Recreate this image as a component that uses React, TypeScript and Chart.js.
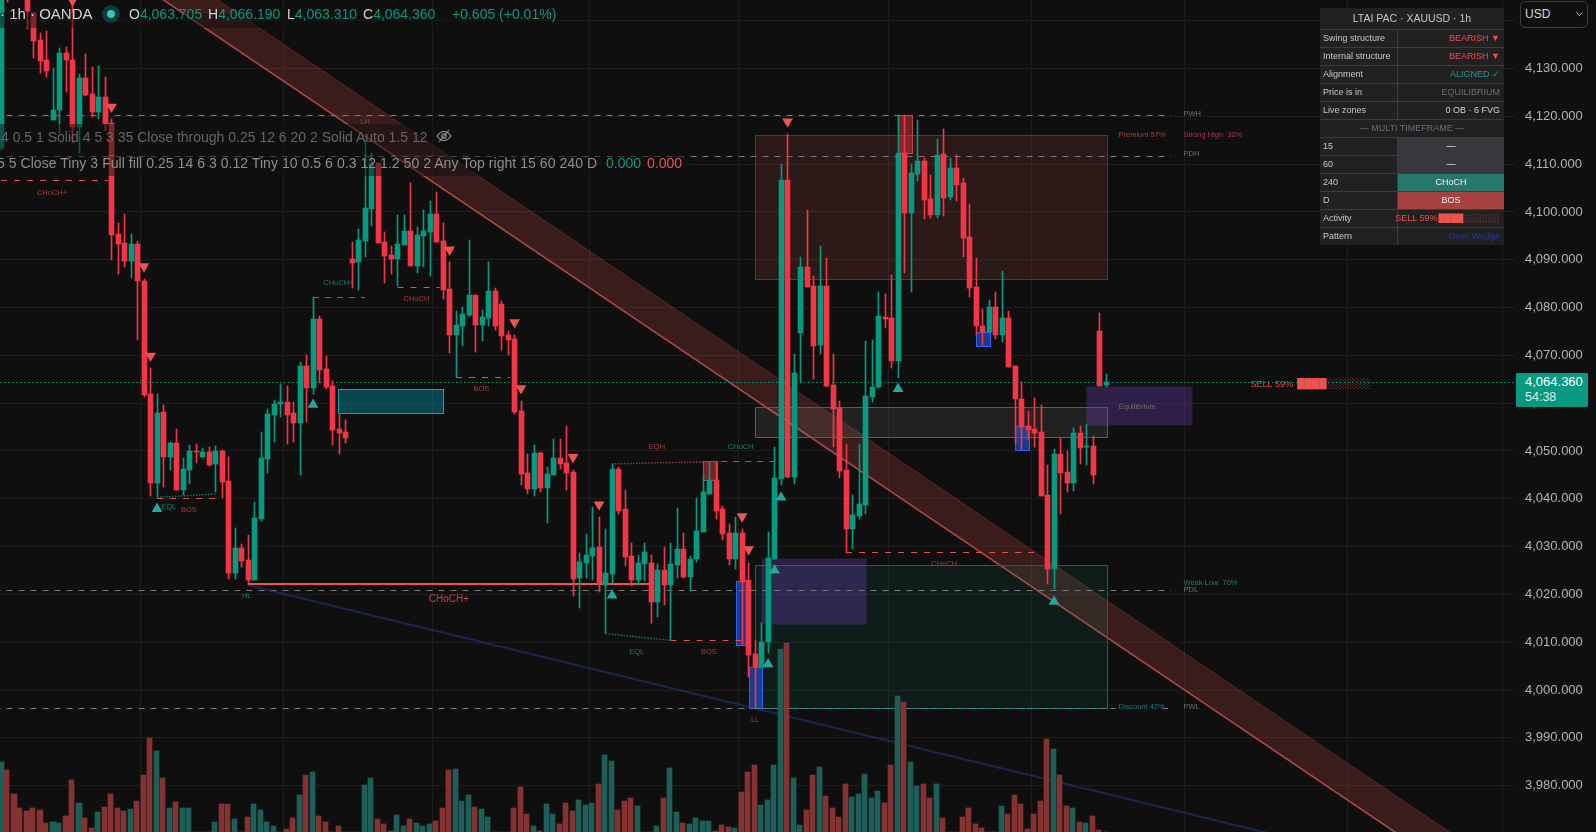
import React, { useEffect, useRef } from "react";
import { Chart, registerables } from "chart.js";

Chart.register(...registerables);

// ---- candle data (price units) ----
const opens = [
  4113.4,4152,4152,4152,4148,4141.6,4136,4131.8,4119.2,4121.3,
  4133.2,4131.8,4117.8,4128,4124.7,4120.9,4124,4118.6,4095.4,4093.5,
  4089.7,4093.3,4085.5,4061.9,4043.3,4058.1,4048.7,4051.6,4041.8,4046,
  4050,4048.7,4049.8,4047.3,4050,4043.7,4024.4,4029.7,4027.2,4023,
  4035.8,4048.3,4057.5,4059.8,4060.2,4057.9,4055.8,4067.8,4063.2,4077.6,
  4067.1,4063.6,4054.6,4053.9,4090.1,4089.5,4093.9,4100.6,4110.2,4093.7,
  4091,4090.1,4093.1,4096,4088.7,4095,4095.8,4099.6,4093.9,4083.9,
  4074.2,4076.1,4078.4,4082.6,4076.3,4077.8,4083.4,4080.7,4074.2,4073.4,
  4058.3,4045.4,4042,4049.6,4042.2,4045,4048.5,4047.5,4045.6,4023.4,
  4026.5,4028,4029.9,4021.9,4024.2,4046.2,4037.9,4028,4023,4026.3,
  4026.5,4018.4,4025.1,4021.9,4026.1,4029.5,4023.6,4027.4,4033,4041,
  4043.9,4037.9,4032.8,4027.4,4032.8,4023,4007.5,4004.8,4010,4027.4,
  4044.1,4106.7,4044.5,4074.7,4088.5,4084.5,4072.2,4084.5,4063.8,4059,
  4046,4033.7,4036.4,4038.7,4061.3,4063.4,4078,4077.8,4068.8,4112.3,
  4099.8,4107.9,4110.6,4102.7,4099.3,4112.1,4103.1,4109.2,4106,4094.7,
  4084.3,4076.1,4074.9,4080.1,4074.2,4077.8,4067.8,4060.9,4055.2,4054.6,
  4053.9,4040.8,4025.3,4049.4,4045.6,4043.3,4053.8,4050.8,4051,4075.1,
  4063.705,
];
const closes = [
  4146,4146,4147,4148,4142,4135.8,4131.6,4129.5,4121.3,4133.2,
  4131.8,4117.8,4128,4124.5,4120.9,4124,4118.4,4095.2,4093.3,4089.7,
  4093.3,4085.5,4061.7,4043.3,4057.9,4048.7,4051.6,4041.8,4046.2,4050,
  4049.8,4049.8,4047.1,4050,4043.5,4024.4,4029.7,4027,4023,4036,
  4048.5,4057.7,4059.8,4060.2,4057.5,4055.8,4067.8,4063.2,4077.6,4066.9,
  4063.4,4054.4,4053.8,4052.7,4089.3,4094.1,4100.8,4110.2,4093.5,4090.8,
  4090.1,4093.3,4096,4088.7,4095.2,4096,4099.6,4093.7,4083.7,4074.2,
  4076.3,4078.6,4082.6,4076.3,4078,4083.4,4076.1,4074,4073.2,4058.1,
  4045.2,4042,4049.6,4042.2,4045.2,4048.5,4047.3,4045.4,4023.2,4026.8,
  4028.2,4029.7,4022.2,4024.4,4046.2,4037.4,4027.8,4023,4026.5,4028.8,
  4018.4,4025.1,4021.9,4026.3,4029.5,4023.6,4027.4,4033.2,4041.4,4043.9,
  4037.4,4032.6,4027.4,4032.8,4022.6,4007.3,4004.9,4010,4027.6,4044.3,
  4106.7,4044.5,4066.3,4088.5,4084.3,4071.9,4084.5,4063.6,4058.8,4045.8,
  4033.7,4036.6,4038.9,4061.5,4063.4,4078.2,4077.6,4068.8,4112.3,4099.8,
  4108.1,4110.6,4102.5,4099.3,4111.9,4102.9,4109.2,4105.6,4094.5,4084.1,
  4076.1,4074.9,4080.1,4074.2,4077.8,4067.6,4060.9,4055,4054.4,4053.8,
  4040.6,4025.3,4049.4,4045.4,4043.3,4053.8,4050.6,4051,4044.9,4063.6,
  4064.36,
];
const highs = [
  4146,4153,4153,4153,4149,4141.6,4137.4,4137.8,4130.1,4134.3,
  4134.5,4145,4128.8,4133,4130.3,4130.5,4128.2,4119.4,4097.7,4099.6,
  4095.4,4093.9,4086,4067.3,4061.9,4059.6,4051.9,4054.6,4048.5,4051.2,
  4051.4,4050.6,4050.8,4051,4050.2,4048.7,4033.9,4030.5,4032.4,4039.3,
  4053.9,4058.8,4060.6,4064,4063.6,4060.2,4068.6,4070.1,4082.2,4078.2,
  4069.9,4064.6,4057.7,4056.5,4093.7,4096.4,4115,4112.3,4110.2,4095.8,
  4092.9,4099.3,4099.3,4106,4096.8,4100.4,4102.3,4104.2,4097.7,4089.5,
  4079.3,4080.1,4094.1,4082.6,4079.5,4089.5,4084.1,4081.3,4075.1,4074.2,
  4060.4,4049.4,4051.2,4049.8,4046.6,4052.5,4052.5,4055.2,4046,4028.6,
  4032.6,4038.3,4036.2,4033.7,4047.3,4046.6,4041.8,4030.7,4028.2,4030.7,
  4028.2,4026.3,4029.9,4030.7,4038,4032.8,4028,4040.1,4045,4047.7,
  4047.7,4038.5,4034.7,4036.2,4033.7,4026.5,4010.4,4014,4033,4050.8,
  4110,4116.3,4070.3,4090.6,4100.4,4086.6,4092.9,4090.3,4070.3,4060.4,
  4051.4,4040.8,4051.4,4073,4073.2,4083.2,4082.8,4086.8,4120.3,4120.3,
  4110,4119.2,4111.3,4107.7,4115.2,4117.3,4111.3,4111.9,4107.1,4101.6,
  4090.3,4079.7,4081.6,4083.2,4087.6,4079.3,4067.8,4064.4,4058.3,4061.1,
  4059.6,4047,4050.4,4052.7,4050,4054.8,4055.2,4055.6,4053.1,4078.8,
  4066.19,
];
const lows = [
  4113,4143.9,4146,4146,4138.3,4132.2,4129.1,4128.2,4119.2,4116.5,
  4125.1,4114.4,4112.3,4124.2,4119.8,4119.4,4116.9,4089.9,4087,4088.5,
  4086.2,4073.2,4061.3,4040.6,4040.1,4042.4,4046,4041.8,4040.8,4043.1,
  4047.5,4048.7,4046.8,4041.4,4040.1,4023.2,4023.2,4025.7,4021.9,4023,
  4035.3,4045.4,4051.9,4057.1,4051.4,4051.9,4045,4056.1,4061.9,4064.2,
  4062.9,4051.2,4049.4,4051.6,4084.1,4083.7,4090.6,4097.1,4093.5,4085.1,
  4087,4084.5,4093.1,4088.7,4087.2,4088.5,4086.6,4093.7,4081.8,4070.5,
  4065.5,4071.9,4078,4070.7,4073,4076.1,4075.3,4071.1,4070.1,4057.7,
  4042.9,4041,4040.6,4041.4,4034.9,4045,4046.2,4041.8,4019.6,4017.1,
  4023.4,4023,4020.5,4011.9,4022.4,4036.8,4025.9,4021.7,4021.9,4022.8,
  4014,4015.3,4017.8,4010.4,4023.4,4023.4,4020.7,4026.8,4033,4041,
  4035.8,4031.4,4026.1,4025.3,4009.4,4002.7,3996.2,4004.8,4007.7,4027.4,
  4042.9,4044.3,4043.1,4064.4,4084.3,4065,4070.3,4063.4,4050.8,4044.3,
  4028.6,4029.5,4035.8,4036.8,4060.2,4063.2,4075.7,4067.3,4065.2,4087.2,
  4083.2,4106.5,4098.5,4098.7,4098.7,4099.1,4102.5,4102.3,4090.6,4082.2,
  4074.2,4072.2,4074.9,4073.4,4072.8,4067.6,4051.7,4050.4,4052.3,4050.8,
  4040.6,4022.2,4021.1,4036.8,4041.4,4041.6,4047.3,4047.1,4043.1,4063.6,
  4063.31,
];
const volumes = [
  70,62,38,24,21,24,22,9,10,9,
  16,52,29,14,4,20,25,38,24,21,
  23,31,57,94,81,54,24,30,24,24,
  0,0,0,10,28,28,13,0,15,28,
  22,10,6,0,3,14,37,57,60,16,
  10,0,6,0,0,0,47,54,13,8,
  1,17,6,13,9,6,8,11,24,62,
  63,31,37,25,23,15,0,0,0,24,
  45,18,6,1,28,18,8,29,21,32,
  27,29,48,77,71,22,31,34,26,0,
  0,6,34,64,20,9,8,14,11,11,
  1,7,5,4,40,60,67,27,32,67,
  183,189,54,7,22,57,65,36,24,15,
  48,35,38,58,34,41,29,67,136,130,
  70,46,48,34,48,14,0,0,15,24,
  8,4,0,0,26,18,37,28,3,18,
  31,93,83,57,26,24,10,9,16,2,
  0,
];

// ---- axis values ----
const priceTicks = [4140,4130,4120,4110,4100,4090,4080,4070,4060,4050,4040,4030,4020,4010,4000,3990,3980];
const timeGridBars = [9.9,33,53.9,79,102,125,148,169,195.2,219.1];
const lastPrice = 4064.36;

// ---- signal markers: bar index and price ----
const sellMarkers = [
  [11,4144.2],[17,4122],[22,4088.6],[23,4069.9],[69,4092.1],[79,4076.9],
  [80,4063.1],[88,4048.7],[92,4038.8],[114,4036.3],[115,4029.4],[121,4118.9],
];
const buyMarkers = [
  [24,4037.9],[48,4059.7],[94,4019.8],[120,4040.3],[119,4025],[118,4005.4],[138,4063],[162,4018.5],
];

// ---- zones: first bar, last bar, upper price, lower price, kind ----
const zones: [number, number, number, number, string][] = [
  [116,170.1,4116,4086,"premium"],
  [116,170.1,4059.1,4053,"equilibrium"],
  [116,170.1,4026.1,3996.2,"discount"],
  [116.9,133.1,4027.6,4013.8,"purple"],
  [166.9,183.2,4063.6,4055.5,"purple"],
  [51.9,68,4062.9,4057.9,"cyan"],
  [113,114.8,4022.7,4009.5,"blue"],
  [115,117,4004.9,3996.2,"blue"],
  [150,152.1,4074.9,4072,"blue"],
  [156,158.1,4055.2,4050.3,"blue"],
  [-1,0,4137.4,4130.7,"blue"],
  [108,110.1,4047.8,4043.9,"supply"],
  [138,140.1,4120.2,4112.3,"supply"],
];

// ---- straight levels: first bar, last bar, price at start, price at end, kind ----
const levels: [number, number, number, number, string][] = [
  [-1,180,4120.2,4120.2,"gray"],
  [-1,180,4111.8,4111.8,"gray"],
  [-1,180,4021,4021,"gray"],
  [-1,171.5,3996.2,3996.2,"gray"],
  [178.6,180,3996.2,3996.2,"gray"],
  [0,16.5,4106.6,4106.6,"redDash"],
  [24,34,4040.1,4040.1,"redDash"],
  [61,67.5,4084.4,4084.4,"redDash"],
  [70,78.3,4065.4,4065.4,"redDash"],
  [103,114,4010.4,4010.4,"redDash"],
  [130,160,4028.8,4028.8,"redDash"],
  [48,56,4082.2,4082.2,"tealDash"],
  [110.8,119,4047.8,4047.8,"tealDash"],
  [94,110,4047.3,4047.8,"redDot"],
  [93,103,4011.8,4010.4,"tealDot"],
  [24,33,4040.3,4041,"tealDot"],
  [38,100,4022.2,4022.2,"redSolid"],
  [38,200,4021.9,3968.4,"wedge"],
  [116,170.1,3996.2,3996.2,"tealDash"],
];

// ---- descending channel: start and end prices of each rail ----
const channelBars = [0, 240];
const channelLower = [4167.3, 3946.8];
const channelUpper = [4175, 3954.5];

// ---- chart labels: text, bar, price, kind, align ----
const chartLabels: [string, number, number, string, string][] = [
  ["CHoCH+",7.85,4103.9,"red","center"],
  ["LH",56,4118.8,"red","center"],
  ["CHoCH+",51.9,4085.1,"teal","center"],
  ["CHoCH",63.9,4081.8,"red","center"],
  ["BOS",73.9,4062.9,"red","center"],
  ["EQL",25.8,4038.3,"teal","center"],
  ["BOS",28.9,4037.6,"red","center"],
  ["HL",37.8,4019.6,"teal","center"],
  ["EQH",100.9,4050.8,"red","center"],
  ["CHoCH",113.8,4050.8,"teal","center"],
  ["EQL",97.8,4007.9,"teal","center"],
  ["BOS",108.9,4007.9,"red","center"],
  ["LL",116,3993.7,"red","center"],
  ["CHoCH",145.1,4026.3,"red","center"],
  ["Premium 57%",171.9,4116.2,"red","left"],
  ["Strong High  30%",181.9,4116.2,"pink","left"],
  ["PWH",181.9,4120.5,"gray","left"],
  ["PDH",181.9,4112.2,"gray","left"],
  ["Weak Low  70%",181.9,4022.4,"teal","left"],
  ["PDL",181.9,4021,"gray","left"],
  ["Discount 42%",171.9,3996.5,"teal","left"],
  ["PWL",181.9,3996.5,"gray","left"],
  ["Equilibrium",174.8,4059.3,"gray","center"],
];
const choch = ["CHoCH+", 68.9, 4019];
const sellText = ["SELL 59%", 192.2, 4063.8];
const activityBlocks = ["████", "░░░░░░"];

// ---- header and table text ----
const ohlc = [
  ["O","4,063.705",129],["H","4,066.190",208],["L","4,063.310",287],["C","4,064.360",363],
];
const changeText = "+0.605 (+0.01%)";
const settingsA = "4 0.5 1 Solid 4 5 3 35 Close through 0.25 12 6 20 2 Solid Auto 1.5 12";
const settingsB = "5 5 Close Tiny 3 Full fill 0.25 14 6 3 0.12 Tiny 10 0.5 6 0.3 12 1.2 50 2 Any Top right 15 60 240 D";
const statusRows = [
  ["Swing structure","BEARISH ▼","#ef4d52"],
  ["Internal structure","BEARISH ▼","#ef4d52"],
  ["Alignment","ALIGNED ✓","#1f9c8c"],
  ["Price is in","EQUILIBRIUM","#6c6c74"],
  ["Live zones","0 OB · 6 FVG","#d0d0d0"],
];
const timeframeRows = [
  ["15","—","#38383c"],
  ["60","—","#38383c"],
  ["240","CHoCH","#26776c"],
  ["D","BOS","#a84242"],
];

const GREEN = "#089981";
const RED = "#f23645";
const VOL_GREEN = "#1d5e58";
const VOL_RED = "#843232";
const BG = "#0f0f0f";
const LABEL_FONT = "'Liberation Sans', sans-serif";

const zoneStyles: Record<string, { fill: string; stroke: string }> = {
  premium: { fill: "rgba(242,100,90,0.125)", stroke: "#6a2e2e" },
  equilibrium: { fill: "rgba(180,180,190,0.11)", stroke: "#5a5a5c" },
  discount: { fill: "rgba(8,153,129,0.10)", stroke: "#2a5c56" },
  purple: { fill: "rgba(118,68,198,0.30)", stroke: "rgba(0,0,0,0)" },
  cyan: { fill: "rgba(0,188,212,0.32)", stroke: "#1f9fb4" },
  blue: { fill: "rgba(41,98,255,0.52)", stroke: "#2962ff" },
  supply: { fill: "rgba(242,54,69,0.45)", stroke: "#b04a4a" },
};
const levelStyles: Record<string, { color: string; dash: number[]; width: number }> = {
  gray: { color: "#77777f", dash: [6, 6], width: 1 },
  redDash: { color: "#e8504f", dash: [6, 7], width: 1 },
  tealDash: { color: "#2a8f86", dash: [6, 6], width: 1 },
  redDot: { color: "#8c3b3b", dash: [1.5, 1.5], width: 1.5 },
  tealDot: { color: "#1f7268", dash: [1.5, 1.5], width: 1.5 },
  redSolid: { color: "#ef5350", dash: [], width: 2 },
  wedge: { color: "rgba(41,70,170,0.42)", dash: [], width: 2 },
};
const labelColors: Record<string, string> = {
  red: "#a83c3c",
  teal: "#1f7a70",
  gray: "#6e6e72",
  pink: "#a83458",
};

const annotations = {
  id: "annotations",
  afterDatasetsUpdate(chart: any) {
    const xs = chart.scales.x;
    chart.getSortedVisibleDatasetMetas().forEach((meta: any) => {
      if (meta.type !== "bar") return;
      const kind = chart.data.datasets[meta.index].kind;
      meta.data.forEach((el: any, i: number) => {
        const px = xs.getPixelForValue(i);
        const c = Math.ceil(px - 0.001);
        const whole = Math.abs(px - Math.round(px)) < 0.01;
        if (kind === "vol") {
          el.width = whole ? 6 : 5;
          el.x = whole ? c - 1 : c - 1.5;
        } else {
          el.x = c - 0.5;
          el.width = kind === "body" ? 5 : 1;
        }
        const a = Math.round(el.y);
        const b = Math.round(el.base);
        el.y = a;
        el.base = a === b && kind !== "vol" ? b + 1 : b;
      });
    });
  },
  beforeDatasetsDraw(chart: any) {
    const { ctx, chartArea: ca, scales } = chart;
    const X = (v: number) => scales.x.getPixelForValue(v);
    const Y = (v: number) => scales.y.getPixelForValue(v);
    ctx.save();
    ctx.beginPath();
    ctx.rect(ca.left, ca.top, ca.right - ca.left, ca.bottom - ca.top);
    ctx.clip();

    // channel
    ctx.beginPath();
    ctx.moveTo(X(channelBars[0]), Y(channelUpper[0]));
    ctx.lineTo(X(channelBars[1]), Y(channelUpper[1]));
    ctx.lineTo(X(channelBars[1]), Y(channelLower[1]));
    ctx.lineTo(X(channelBars[0]), Y(channelLower[0]));
    ctx.closePath();
    ctx.fillStyle = "rgba(242,90,80,0.19)";
    ctx.fill();
    ctx.beginPath();
    ctx.moveTo(X(channelBars[0]), Y(channelUpper[0]));
    ctx.lineTo(X(channelBars[1]), Y(channelUpper[1]));
    ctx.strokeStyle = "rgba(190,70,70,0.35)";
    ctx.lineWidth = 1;
    ctx.stroke();
    ctx.beginPath();
    ctx.moveTo(X(channelBars[0]), Y(channelLower[0]));
    ctx.lineTo(X(channelBars[1]), Y(channelLower[1]));
    ctx.strokeStyle = "#b04848";
    ctx.lineWidth = 1.6;
    ctx.stroke();

    // zones
    zones.forEach(([a, b, top, bottom, kind]) => {
      const st = zoneStyles[kind];
      const x0 = Math.round(X(a)) + 0.5;
      const x1 = Math.round(X(b)) + 0.5;
      const y0 = Math.round(Y(top)) + 0.5;
      const y1 = Math.round(Y(bottom)) + 0.5;
      ctx.fillStyle = st.fill;
      ctx.fillRect(x0, y0, x1 - x0, y1 - y0);
      ctx.strokeStyle = st.stroke;
      ctx.lineWidth = 1;
      ctx.setLineDash([]);
      ctx.strokeRect(x0, y0, x1 - x0, y1 - y0);
    });

    // levels
    levels.forEach(([a, b, p0, p1, kind]) => {
      const st = levelStyles[kind];
      const snap = p0 === p1 ? (v: number) => Math.round(v) + (st.width % 2 ? 0.5 : 0) : (v: number) => v;
      ctx.beginPath();
      ctx.setLineDash(st.dash);
      ctx.strokeStyle = st.color;
      ctx.lineWidth = st.width;
      ctx.moveTo(X(a), snap(Y(p0)));
      ctx.lineTo(X(b), snap(Y(p1)));
      ctx.stroke();
    });
    ctx.setLineDash([1.5, 2.5]);
    ctx.strokeStyle = GREEN;
    ctx.lineWidth = 1;
    ctx.beginPath();
    const py = Math.round(Y(lastPrice)) + 0.5;
    ctx.moveTo(ca.left, py);
    ctx.lineTo(ca.right, py);
    ctx.stroke();
    ctx.restore();
  },
  afterDatasetsDraw(chart: any) {
    const { ctx, scales } = chart;
    const X = (v: number) => scales.x.getPixelForValue(v);
    const Y = (v: number) => scales.y.getPixelForValue(v);
    ctx.save();
    ctx.textBaseline = "middle";
    ctx.font = `7.5px ${LABEL_FONT}`;
    chartLabels.forEach(([text, bar, price, kind, align]) => {
      ctx.fillStyle = labelColors[kind];
      ctx.textAlign = align;
      ctx.fillText(text, X(bar), Y(price));
    });
    ctx.textAlign = "center";
    ctx.font = `10px ${LABEL_FONT}`;
    ctx.fillStyle = "#c24444";
    ctx.fillText(choch[0], X(choch[1] as number), Y(choch[2] as number));
    ctx.textAlign = "left";
    ctx.font = `9px ${LABEL_FONT}`;
    ctx.fillStyle = "#e8474c";
    ctx.fillText(sellText[0], X(sellText[1] as number), Y(sellText[2] as number));
    const bx = X(199.4);
    ctx.font = `9.5px 'DejaVu Sans'`;
    ctx.fillStyle = "#ef5350";
    ctx.fillText(activityBlocks[0], bx, Y(4064));
    const w = ctx.measureText(activityBlocks[0]).width;
    ctx.fillStyle = "#8c3b3b";
    ctx.fillText(activityBlocks[1], bx + w, Y(4064));
    ctx.restore();
  },
};

const cellBase: React.CSSProperties = {
  position: "absolute",
  height: 17,
  lineHeight: "17px",
  whiteSpace: "nowrap",
};

function Panel() {
  const rowH = 18;
  const headH = 21;
  const row = (i: number, left: React.ReactNode, right: React.ReactNode, rightBg?: string, key?: string) => (
    <div key={key ?? i} style={{ position: "absolute", left: 0, top: headH + i * rowH, width: 184, height: rowH, borderTop: "1px solid #3c3c3c", boxSizing: "border-box" }}>
      <div style={{ ...cellBase, left: 3, top: 0, color: "#c8c8c8" }}>{left}</div>
      <div style={{ position: "absolute", left: 77, top: 0, width: 1, height: 17, background: "#3c3c3c" }} />
      <div style={{ ...cellBase, left: 78, top: 0, width: 106, background: rightBg ?? "transparent", display: "flex", justifyContent: rightBg ? "center" : "flex-end", paddingRight: rightBg ? 0 : 4, boxSizing: "border-box" }}>{right}</div>
    </div>
  );
  return (
    <div style={{ position: "absolute", left: 1320, top: 8, width: 184, height: 237, background: "rgba(34,34,34,0.93)", fontFamily: LABEL_FONT, fontSize: 9, color: "#c8c8c8" }}>
      <div style={{ position: "absolute", left: 0, top: 0, width: 184, height: headH, lineHeight: "21px", textAlign: "center", fontSize: 10.5, color: "#c4c4c4" }}>LTAI PAC · XAUUSD · 1h</div>
      {statusRows.map((r, i) => row(i, r[0], <span style={{ color: r[2] }}>{r[1]}</span>))}
      <div style={{ position: "absolute", left: 0, top: headH + 5 * rowH, width: 184, height: rowH, borderTop: "1px solid #3c3c3c", boxSizing: "border-box", lineHeight: "17px", textAlign: "center", color: "#6c6c74" }}>— MULTI TIMEFRAME —</div>
      {timeframeRows.map((r, i) => row(6 + i, r[0], <span style={{ color: "#f0f0f0" }}>{r[1]}</span>, r[2]))}
      {row(10, "Activity", (
        <span style={{ color: "#ef4d52", display: "flex", alignItems: "center" }}>
          SELL 59%
          <span style={{ marginLeft: 1, fontFamily: "'DejaVu Sans'", fontSize: 8, lineHeight: "17px", color: "#ef5350" }}>████</span>
          <span style={{ fontFamily: "'DejaVu Sans'", fontSize: 8, lineHeight: "17px", color: "#8c3b3b" }}>░░░░░░</span>
        </span>
      ))}
      {row(11, "Pattern", <span style={{ color: "#1f3a8f" }}>Desc Wedge</span>)}
    </div>
  );
}

export default function App() {
  const ref = useRef<HTMLCanvasElement>(null);
  useEffect(() => {
    const up = (i: number) => closes[i] >= opens[i];
    const chart = new Chart(ref.current as HTMLCanvasElement, {
      type: "bar",
      data: {
        datasets: [
          { kind: "vol", type: "bar", order: 4, yAxisID: "v", barThickness: 6, grouped: false, data: volumes.map((v, i) => ({ x: i, y: v })), backgroundColor: volumes.map((_, i) => (up(i) ? VOL_GREEN : VOL_RED)) },
          { kind: "wick", type: "bar", order: 3, barThickness: 1, grouped: false, data: highs.map((h, i) => ({ x: i, y: [lows[i], h] })), backgroundColor: highs.map((_, i) => (up(i) ? GREEN : RED)) },
          { kind: "body", type: "bar", order: 2, barThickness: 5, grouped: false, data: opens.map((o, i) => ({ x: i, y: [o, closes[i]] })), backgroundColor: opens.map((_, i) => (up(i) ? GREEN : RED)) },
          { type: "line", order: 1, showLine: false, pointStyle: "triangle", pointRadius: 6.2, pointRotation: 180, pointBackgroundColor: "#ef5350", pointBorderWidth: 0, data: sellMarkers.map(([x, y]) => ({ x, y })) },
          { type: "line", order: 1, showLine: false, pointStyle: "triangle", pointRadius: 6.2, pointBackgroundColor: "#26a69a", pointBorderWidth: 0, data: buyMarkers.map(([x, y]) => ({ x, y })) },
        ] as any,
      },
      options: {
        animation: false,
        responsive: false,
        maintainAspectRatio: false,
        layout: { padding: 0, autoPadding: false },
        plugins: { legend: { display: false }, tooltip: { enabled: false } },
        scales: {
          x: {
            type: "linear",
            min: -0.154,
            max: 232.9,
            offset: false,
            border: { display: false },
            grid: { color: "#1d1d1d", drawTicks: false },
            ticks: { display: false, autoSkip: false },
            afterBuildTicks: (s: any) => { s.ticks = timeGridBars.map((value) => ({ value })); },
          },
          y: {
            type: "linear",
            position: "right",
            min: 3970.3,
            max: 4144.33,
            border: { display: false },
            grid: { color: "#1d1d1d", drawTicks: false },
            ticks: {
              padding: 10,
              autoSkip: false,
              color: "#b4b4b4",
              font: { family: "'Liberation Sans'", size: 13 },
              callback: (v: any) => (v === 4140 ? "" : Number(v).toLocaleString("en-US", { minimumFractionDigits: 3 })),
            },
            afterBuildTicks: (s: any) => { s.ticks = priceTicks.map((value) => ({ value })); },
            afterFit: (s: any) => { s.width = 81; s.paddingTop = 0; s.paddingBottom = 0; },
          },
          v: { type: "linear", display: false, min: 0, max: 832 },
        },
      } as any,
      plugins: [annotations as any],
    });
    return () => chart.destroy();
  }, []);

  const legendFont = LABEL_FONT;
  return (
    <div style={{ position: "relative", width: 1596, height: 832, overflow: "hidden", background: BG }}>
      <style>{`html,body{margin:0;padding:0;background:${BG};overflow:hidden}`}</style>
      <canvas ref={ref} width={1596} height={832} style={{ position: "absolute", left: 0, top: 0, width: 1596, height: 832 }} />

      {/* legend row backgrounds */}
      <div style={{ position: "absolute", left: 0, top: 13, width: 545, height: 15, background: "rgba(15,15,15,0.5)" }} />
      <div style={{ position: "absolute", left: 0, top: 124, width: 470, height: 31, background: "rgba(15,15,15,0.5)" }} />
      <div style={{ position: "absolute", left: 0, top: 156, width: 690, height: 20, background: "rgba(15,15,15,0.5)" }} />

      {/* header */}
      <div style={{ position: "absolute", left: 0, top: 4, height: 20, lineHeight: "20px", fontFamily: legendFont, fontSize: 15, fontWeight: 500, color: "#d1d4dc", whiteSpace: "nowrap" }}>· 1h · OANDA</div>
      <div style={{ position: "absolute", left: 102, top: 5, width: 18, height: 18, borderRadius: 9, background: "#0e3a37" }} />
      <div style={{ position: "absolute", left: 107, top: 10, width: 8, height: 8, borderRadius: 4, background: "#37c6ad" }} />
      {ohlc.map(([k, v, x]) => (
        <div key={k as string} style={{ position: "absolute", left: x as number, top: 5, height: 18, lineHeight: "18px", fontFamily: legendFont, fontSize: 14, whiteSpace: "nowrap" }}>
          <span style={{ color: "#d1d4dc" }}>{k}</span><span style={{ color: GREEN }}>{v}</span>
        </div>
      ))}
      <div style={{ position: "absolute", left: 452, top: 5, height: 18, lineHeight: "18px", fontFamily: legendFont, fontSize: 14, color: GREEN, whiteSpace: "nowrap" }}>{changeText}</div>

      <div style={{ position: "absolute", left: 1, top: 128, height: 18, lineHeight: "18px", fontFamily: legendFont, fontSize: 14, color: "#666", whiteSpace: "nowrap" }}>{settingsA}</div>
      <svg style={{ position: "absolute", left: 436, top: 128 }} width="16" height="16" viewBox="0 0 16 16" fill="none" stroke="#999" strokeWidth="1.1">
        <path d="M1 8c2-3 4.5-4.5 7-4.5S13 5 15 8c-2 3-4.5 4.5-7 4.5S3 11 1 8z" />
        <circle cx="8" cy="8" r="2.3" />
        <path d="M3 14L13 2" />
      </svg>
      <div style={{ position: "absolute", left: -3, top: 154, height: 18, lineHeight: "18px", fontFamily: legendFont, fontSize: 14, letterSpacing: 0.05, color: "#8f8f8f", whiteSpace: "nowrap" }}>{settingsB}</div>
      <div style={{ position: "absolute", left: 606, top: 154, height: 18, lineHeight: "18px", fontFamily: legendFont, fontSize: 14, color: GREEN }}>0.000</div>
      <div style={{ position: "absolute", left: 647, top: 154, height: 18, lineHeight: "18px", fontFamily: legendFont, fontSize: 14, color: "#ef5350" }}>0.000</div>

      <Panel />

      {/* currency button */}
      <div style={{ position: "absolute", left: 1520, top: 1, width: 68, height: 27, boxSizing: "border-box", border: "1px solid #3d3d3d", borderRadius: 5, background: BG, color: "#d8d8d8", fontFamily: legendFont, fontSize: 12, lineHeight: "25px", paddingLeft: 4 }}>
        USD
        <svg style={{ position: "absolute", right: 4, top: 10 }} width="7" height="5" viewBox="0 0 7 5" fill="none" stroke="#bbb"><path d="M0.5 0.5L3.5 3.5L6.5 0.5" /></svg>
      </div>

      {/* last price tag */}
      <div style={{ position: "absolute", left: 1516, top: 373, width: 72, height: 34, background: GREEN, borderRadius: 1, fontFamily: "'Liberation Sans'", fontSize: 13, color: "#fff", paddingLeft: 9, boxSizing: "border-box" }}>
        <div style={{ lineHeight: "17px", height: 17 }}>4,064.360</div>
        <div style={{ lineHeight: "15px", color: "#d8efe9", fontSize: 12.5 }}>54:38</div>
      </div>
    </div>
  );
}
